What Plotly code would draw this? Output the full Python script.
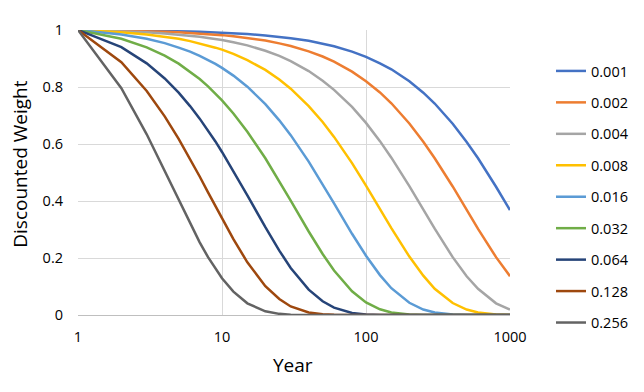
import plotly.graph_objects as go

years = [1, 2, 3, 4, 5, 6, 7, 8, 9, 10, 12, 15, 20, 25, 30, 40, 50, 60, 80, 100,
         125, 150, 200, 250, 300, 400, 500, 600, 800, 1000]

rates = ["0.001", "0.002", "0.004", "0.008", "0.016", "0.032", "0.064", "0.128", "0.256"]

w_0001 = [1, .999, .998, .997, .996, .995, .994, .993, .992, .991, .989, .986, .981, .976, .971,
          .962, .952, .943, .924, .906, .883, .862, .820, .780, .742, .671, .607, .550, .450, .368]
w_0002 = [1, .998, .996, .994, .992, .990, .988, .986, .984, .982, .978, .972, .963, .953, .944,
          .925, .907, .889, .854, .820, .781, .743, .672, .608, .550, .451, .369, .302, .203, .136]
w_0004 = [1, .996, .992, .988, .984, .980, .976, .972, .969, .965, .957, .946, .927, .909, .891,
          .856, .822, .790, .730, .674, .610, .552, .452, .370, .303, .203, .136, .092, .041, .019]
w_0008 = [1, .992, .984, .976, .969, .961, .953, .946, .938, .931, .916, .894, .860, .826, .794,
          .733, .677, .625, .533, .454, .372, .305, .205, .138, .092, .042, .019, .009, .002, 0]
w_0016 = [1, .984, .969, .954, .938, .924, .909, .895, .881, .867, .840, .801, .740, .683, .631,
          .538, .459, .392, .285, .208, .140, .094, .043, .019, .009, .002, 0, 0, 0, 0]
w_0032 = [1, .969, .939, .910, .882, .854, .828, .802, .777, .753, .707, .643, .550, .470, .401,
          .293, .214, .156, .083, .044, .020, .009, .002, 0, 0, 0, 0, 0, 0, 0]
w_0064 = [1, .940, .883, .830, .780, .733, .689, .648, .609, .572, .505, .420, .308, .226, .165,
          .089, .048, .026, .007, .002, 0, 0, 0, 0, 0, 0, 0, 0, 0, 0]
w_0128 = [1, .887, .786, .697, .618, .548, .486, .430, .381, .338, .266, .185, .101, .056, .030,
          .009, .003, .001, 0, 0, 0, 0, 0, 0, 0, 0, 0, 0, 0, 0]
w_0256 = [1, .796, .634, .505, .402, .320, .255, .203, .162, .129, .082, .041, .013, .004, .001,
          0, 0, 0, 0, 0, 0, 0, 0, 0, 0, 0, 0, 0, 0, 0]

series = [w_0001, w_0002, w_0004, w_0008, w_0016, w_0032, w_0064, w_0128, w_0256]
colors = ["#4472C4", "#ED7D31", "#A5A5A5", "#FFC000", "#5B9BD5",
          "#70AD47", "#264478", "#9E480E", "#636363"]

x_ticks = [1, 10, 100, 1000]
x_tick_labels = ["1", "10", "100", "1000"]

FONT = "Open Sans"

fig = go.Figure()
for name, vals, col in zip(rates, series, colors):
    fig.add_trace(go.Scatter(
        x=years, y=vals, mode="lines", name=name, legendgroup=name,
        line=dict(color=col, width=2.5),
    ))

fig.update_layout(
    width=644, height=392,
    margin=dict(l=78, r=134, t=30, b=77, autoexpand=False),
    paper_bgcolor="white", plot_bgcolor="white",
    font=dict(family=FONT, size=14.5, color="#000000"),
    showlegend=True,
    legend=dict(
        xref="container", yref="container",
        x=551 / 644, xanchor="left", y=(392 - 55) / 392, yanchor="top", maxheight=600,
        tracegroupgap=9.6, font=dict(family=FONT, size=14.5, color="#000000"),
        bgcolor="rgba(0,0,0,0)", borderwidth=0, traceorder="grouped",
    ),
    xaxis=dict(
        type="log", range=[0, 3], tickvals=x_ticks, ticktext=x_tick_labels,
        showgrid=True, gridcolor="#D9D9D9", gridwidth=1,
        showline=True, linecolor="#BFBFBF", linewidth=1,
        zeroline=False, ticks="", ticklabelstandoff=9, automargin=False,
    ),
    yaxis=dict(
        range=[0, 1], dtick=0.2, tick0=0,
        showgrid=True, gridcolor="#D9D9D9", gridwidth=1,
        showline=False, zeroline=False, ticks="", ticklabelstandoff=14, automargin=False,
    ),
    annotations=[
        dict(text="Discounted Weight", xref="paper", yref="paper",
             x=(20 - 78) / 432, y=(315 - 165) / 284.5, textangle=-90,
             showarrow=False, xanchor="center", yanchor="middle",
             font=dict(family=FONT, size=19, color="#000000")),
        dict(text="Year", xref="paper", yref="paper",
             x=(293 - 78) / 432, y=-(365 - 315) / 284.5,
             showarrow=False, xanchor="center", yanchor="middle",
             font=dict(family=FONT, size=19, color="#000000")),
    ],
)

fig.write_html("out.html", config={"displayModeBar": False},
               post_script="document.body.style.margin='0';")
